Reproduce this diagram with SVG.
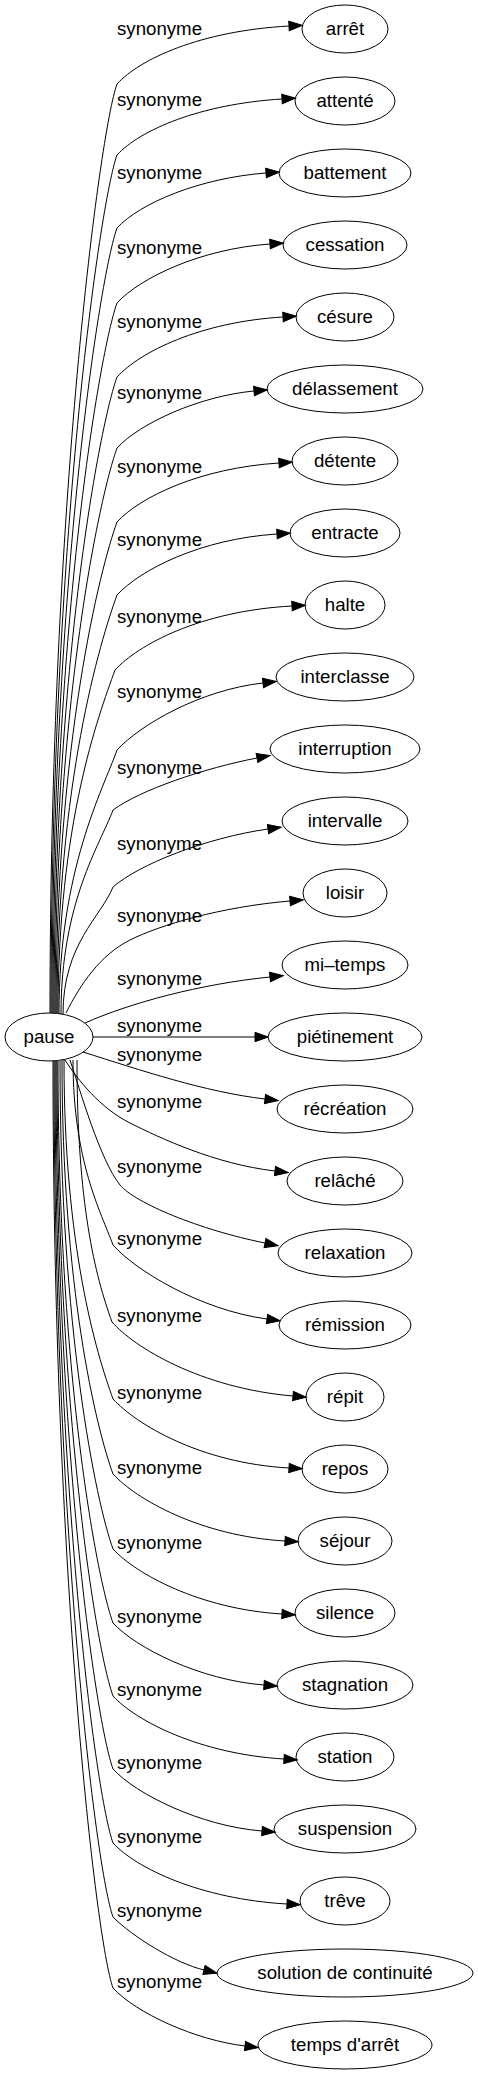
<svg xmlns="http://www.w3.org/2000/svg" width="478" height="2075" viewBox="0 0 478 2075">
<style>
.n ellipse{fill:none;stroke:#000;stroke-width:1}
text{font-family:"Liberation Sans",Arial,sans-serif;font-size:18.67px;fill:#000}
.n text{text-anchor:middle}
.e path{fill:none;stroke:#000;stroke-width:1;marker-end:url(#ah)}
</style>
<defs>
<marker id="ah" markerUnits="userSpaceOnUse" markerWidth="13.33" markerHeight="9.33" viewBox="0 0 13.33 9.33" refX="0" refY="4.67" orient="auto" overflow="visible">
<path d="M0,0 L13.33,4.67 L0,9.33 z" fill="#000" stroke="#000" stroke-width="1"/>
</marker>
</defs>
<rect width="478" height="2075" fill="#fff"/>
<g class="e" id="edges">
<path d="M50,1013 C50,502 100,131 117,84 C140,59 200,31 289,26"/>
<path d="M51,1013 C51,541 100,202 117,155 C140,130 200,104 282,99"/>
<path d="M52,1013 C52,581 100,275 117,228 C140,203 200,178 266,173"/>
<path d="M53,1013 C53,622 100,350 117,303 C140,278 200,249 270,244"/>
<path d="M54,1013 C54,663 100,424 117,377 C140,352 200,322 283,317"/>
<path d="M55,1013 C55,702 100,495 117,448 C140,423 200,396 254,391"/>
<path d="M56,1013 C56,743 100,569 117,522 C140,497 200,468 279,463"/>
<path d="M57,1013 C57,783 100,642 117,595 C140,570 200,539 277,534"/>
<path d="M58,1013 C58,824 98,717 115,670 C138,645 200,611 292,606"/>
<path d="M59,1014 C59,869 103,790 117,750 C140,725 200,690 263,683"/>
<path d="M61,1014 C61,902 100,845 113,810 C140,790 205,768 257,758"/>
<path d="M63,1014 C63,944 101,917 113,887 C138,865 205,838 268,829"/>
<path d="M66,1013 C80,985 100,955 130,940 C160,925 220,907 290,901"/>
<path d="M85,1023 C130,1003 200,984 270,977"/>
<path d="M93,1037 L255,1037"/>
<path d="M83,1052 C140,1070 205,1092 265,1099"/>
<path d="M65,1060 C78,1080 100,1108 130,1123 C160,1138 215,1164 275,1171"/>
<path d="M70,1060 C80,1090 100,1160 120,1185 C135,1203 200,1230 265,1243"/>
<path d="M73,1060 C73,1162 101,1212 113,1245 C135,1270 200,1310 267,1319"/>
<path d="M77,1060 C77,1204 95,1275 112,1322 C134,1347 200,1388 293,1396"/>
<path d="M64,1060 C64,1246 96,1352 113,1399 C136,1424 200,1463 289,1468"/>
<path d="M62,1060 C62,1288 96,1427 113,1474 C136,1499 200,1536 285,1541"/>
<path d="M60,1061 C60,1329 96,1502 113,1549 C136,1574 200,1609 282,1614"/>
<path d="M58,1061 C58,1370 96,1576 113,1623 C136,1648 200,1680 264,1685"/>
<path d="M57,1061 C57,1410 96,1649 113,1696 C136,1721 200,1754 284,1759"/>
<path d="M56,1061 C56,1450 96,1722 113,1769 C136,1794 200,1826 262,1831"/>
<path d="M55,1061 C55,1491 96,1796 113,1843 C136,1868 200,1899 287,1904"/>
<path d="M54,1061 C54,1532 96,1870 113,1917 C133,1937 175,1963 204,1970"/>
<path d="M53,1061 C53,1571 96,1941 113,1988 C136,2013 195,2040 245,2046"/>
</g>
<g id="edge-labels">
<text x="117" y="35">synonyme</text>
<text x="117" y="106">synonyme</text>
<text x="117" y="179">synonyme</text>
<text x="117" y="254">synonyme</text>
<text x="117" y="328">synonyme</text>
<text x="117" y="399">synonyme</text>
<text x="117" y="473">synonyme</text>
<text x="117" y="546">synonyme</text>
<text x="117" y="623">synonyme</text>
<text x="117" y="698">synonyme</text>
<text x="117" y="774">synonyme</text>
<text x="117" y="850">synonyme</text>
<text x="117" y="922">synonyme</text>
<text x="117" y="985">synonyme</text>
<text x="117" y="1032">synonyme</text>
<text x="117" y="1061">synonyme</text>
<text x="117" y="1108">synonyme</text>
<text x="117" y="1173">synonyme</text>
<text x="117" y="1245">synonyme</text>
<text x="117" y="1322">synonyme</text>
<text x="117" y="1399">synonyme</text>
<text x="117" y="1474">synonyme</text>
<text x="117" y="1549">synonyme</text>
<text x="117" y="1623">synonyme</text>
<text x="117" y="1696">synonyme</text>
<text x="117" y="1769">synonyme</text>
<text x="117" y="1843">synonyme</text>
<text x="117" y="1917">synonyme</text>
<text x="117" y="1988">synonyme</text>
</g>
<g class="n" id="pause"><ellipse cx="49" cy="1037" rx="44" ry="24"/><text x="49" y="1043">pause</text></g>
<g class="n" id="arret"><ellipse cx="345" cy="29" rx="43" ry="24"/><text x="345" y="35">arrêt</text></g>
<g class="n" id="attente"><ellipse cx="345" cy="101" rx="50" ry="24"/><text x="345" y="107">attenté</text></g>
<g class="n" id="battement"><ellipse cx="345" cy="173" rx="66" ry="24"/><text x="345" y="179">battement</text></g>
<g class="n" id="cessation"><ellipse cx="345" cy="245" rx="62" ry="24"/><text x="345" y="251">cessation</text></g>
<g class="n" id="cesure"><ellipse cx="345" cy="317" rx="49" ry="24"/><text x="345" y="323">césure</text></g>
<g class="n" id="delassement"><ellipse cx="345" cy="389" rx="78" ry="24"/><text x="345" y="395">délassement</text></g>
<g class="n" id="detente"><ellipse cx="345" cy="461" rx="53" ry="24"/><text x="345" y="467">détente</text></g>
<g class="n" id="entracte"><ellipse cx="345" cy="533" rx="55" ry="24"/><text x="345" y="539">entracte</text></g>
<g class="n" id="halte"><ellipse cx="345" cy="605" rx="40" ry="24"/><text x="345" y="611">halte</text></g>
<g class="n" id="interclasse"><ellipse cx="345" cy="677" rx="69" ry="24"/><text x="345" y="683">interclasse</text></g>
<g class="n" id="interruption"><ellipse cx="345" cy="749" rx="75" ry="24"/><text x="345" y="755">interruption</text></g>
<g class="n" id="intervalle"><ellipse cx="345" cy="821" rx="63" ry="24"/><text x="345" y="827">intervalle</text></g>
<g class="n" id="loisir"><ellipse cx="345" cy="893" rx="42" ry="24"/><text x="345" y="899">loisir</text></g>
<g class="n" id="mi-temps"><ellipse cx="345" cy="965" rx="63" ry="24"/><text x="345" y="971">mi–temps</text></g>
<g class="n" id="pietinement"><ellipse cx="345" cy="1037" rx="77" ry="24"/><text x="345" y="1043">piétinement</text></g>
<g class="n" id="recreation"><ellipse cx="345" cy="1109" rx="68" ry="24"/><text x="345" y="1115">récréation</text></g>
<g class="n" id="relache"><ellipse cx="345" cy="1181" rx="58" ry="24"/><text x="345" y="1187">relâché</text></g>
<g class="n" id="relaxation"><ellipse cx="345" cy="1253" rx="67" ry="24"/><text x="345" y="1259">relaxation</text></g>
<g class="n" id="remission"><ellipse cx="345" cy="1325" rx="66" ry="24"/><text x="345" y="1331">rémission</text></g>
<g class="n" id="repit"><ellipse cx="345" cy="1397" rx="39" ry="24"/><text x="345" y="1403">répit</text></g>
<g class="n" id="repos"><ellipse cx="345" cy="1469" rx="43" ry="24"/><text x="345" y="1475">repos</text></g>
<g class="n" id="sejour"><ellipse cx="345" cy="1541" rx="47" ry="24"/><text x="345" y="1547">séjour</text></g>
<g class="n" id="silence"><ellipse cx="345" cy="1613" rx="50" ry="24"/><text x="345" y="1619">silence</text></g>
<g class="n" id="stagnation"><ellipse cx="345" cy="1685" rx="68" ry="24"/><text x="345" y="1691">stagnation</text></g>
<g class="n" id="station"><ellipse cx="345" cy="1757" rx="49" ry="24"/><text x="345" y="1763">station</text></g>
<g class="n" id="suspension"><ellipse cx="345" cy="1829" rx="71" ry="24"/><text x="345" y="1835">suspension</text></g>
<g class="n" id="treve"><ellipse cx="345" cy="1901" rx="45" ry="24"/><text x="345" y="1907">trêve</text></g>
<g class="n" id="solution"><ellipse cx="345" cy="1973" rx="128" ry="24"/><text x="345" y="1979">solution de continuité</text></g>
<g class="n" id="temps"><ellipse cx="345" cy="2045" rx="87" ry="24"/><text x="345" y="2051">temps d'arrêt</text></g>
</svg>
